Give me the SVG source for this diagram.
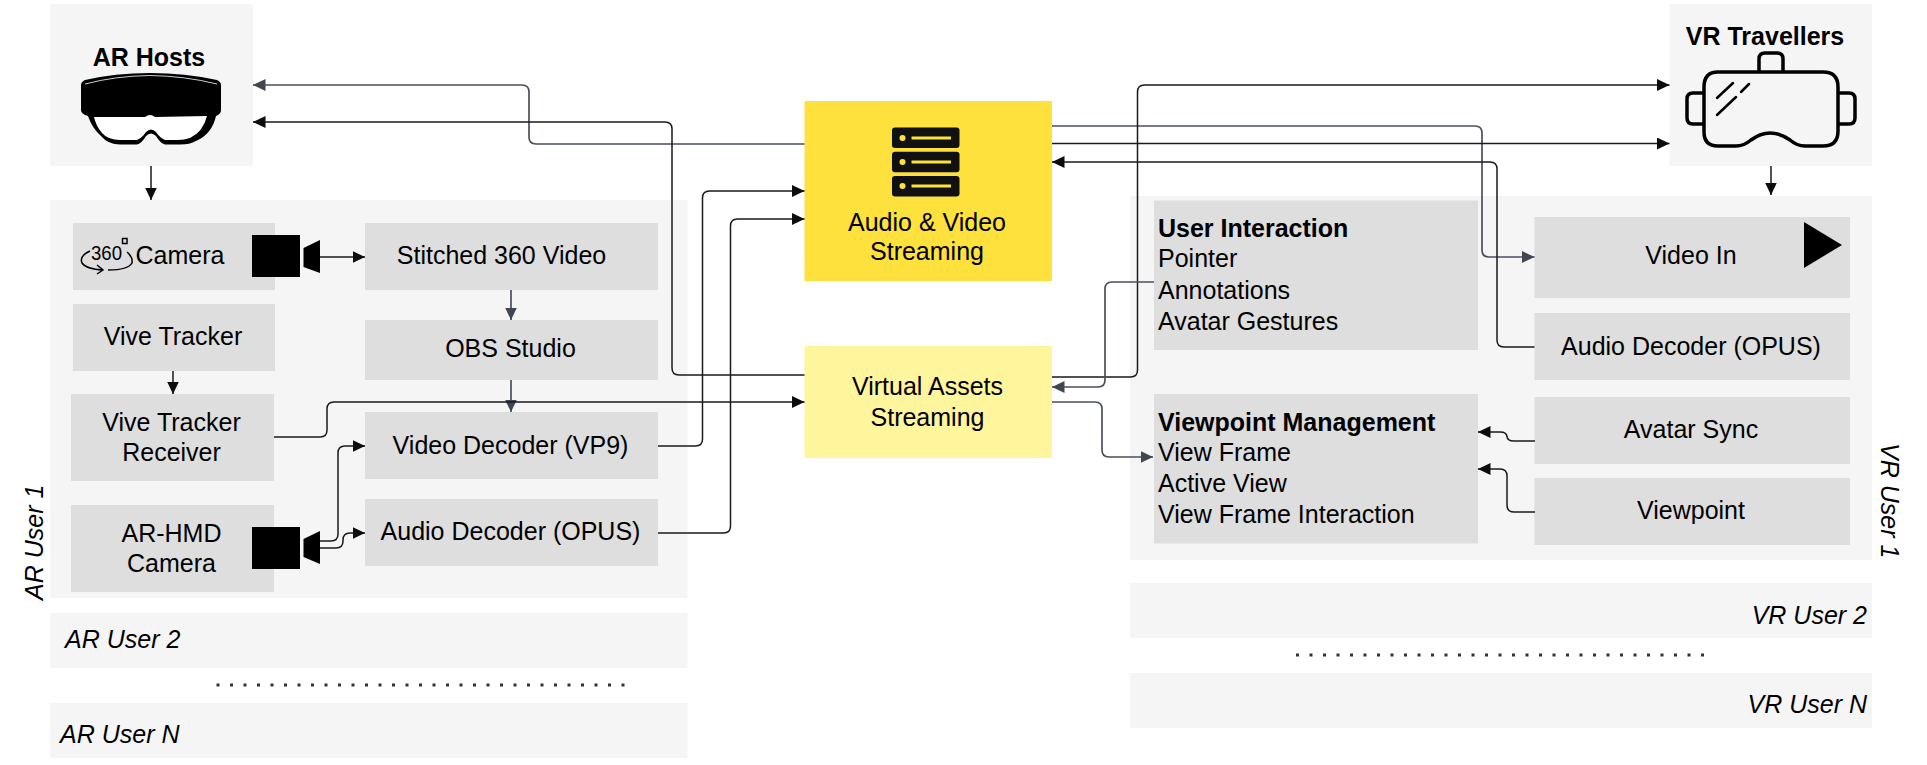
<svg xmlns="http://www.w3.org/2000/svg" width="1927" height="765" viewBox="0 0 1927 765">
<style>
text{font-family:"Liberation Sans",Arial,sans-serif;font-size:25px;fill:#000}
.m{text-anchor:middle}.b{font-weight:700}.i{font-style:italic}.e{text-anchor:end}
.p{fill:#f5f5f5}.g{fill:#dedede}
.c{fill:none;stroke:#1a1a1a;stroke-width:1.5}
.s{fill:none;stroke:#4a4f59;stroke-width:1.7}
.d{stroke:#333;stroke-width:3;stroke-dasharray:3 10.5;fill:none}
.a{marker-end:url(#ah)}.t{marker-end:url(#as)}
</style>
<defs>
<marker id="ah" markerUnits="userSpaceOnUse" markerWidth="13" markerHeight="12" refX="12.5" refY="6" orient="auto"><path d="M0 0L12.5 6L0 12z" fill="#0d0d0d"/></marker>
<marker id="as" markerUnits="userSpaceOnUse" markerWidth="13" markerHeight="12" refX="12.5" refY="6" orient="auto"><path d="M0 0L12.5 6L0 12z" fill="#414752"/></marker>
</defs>
<g id="ar-user-1-panel"><rect class="p" x="50" y="200" width="637.5" height="398"/><text class="i" transform="translate(43,600) rotate(-90)">AR User 1</text></g>
<g id="vr-user-1-panel"><rect class="p" x="1130" y="196" width="742" height="364"/><text class="i" transform="translate(1881,443) rotate(90)">VR User 1</text></g>
<g id="ar-hosts"><rect class="p" x="50" y="4" width="203" height="162"/><text class="m b" x="149" y="66">AR Hosts</text>
<path d="M81 85Q81 82 85 80Q115 73 150 73Q185 73 217 80Q221 82 221 85L221 110Q221 114 216 116Q212 134 196 141Q190 144.500 180 144.500L165 144.500Q160 143 156 136Q151 131 146 136Q142 143 137 144.500L120 144.500Q108 144.500 101 136Q92 128 88 116Q81 114 81 110z" fill="#000"/>
<path d="M94 117L145 117Q150 113 155 117L207 116Q203 132 190 138Q184 140 178 140L165 140Q159 137 156 132Q151 127 146 132Q142 138 137 140L120 140Q108 140 102 133Q96 126 94 117z" fill="#fff"/>
<path d="M85 84Q115 76 150 75.500Q185 76 217 84" fill="none" stroke="#fff" stroke-width=".8"/></g>
<g id="vr-travellers"><rect class="p" x="1669.500" y="4" width="202.500" height="162"/><text class="m b" x="1765" y="45">VR Travellers</text>
<g fill="none" stroke="#000" stroke-width="3.500" stroke-linecap="round" stroke-linejoin="round"><path d="M1718 72L1823 72Q1838 72 1838 87L1838 131Q1838 146 1823 146L1805 146Q1797 146 1790 140Q1770 126 1751 140Q1744 146 1736 146L1718 146Q1704 146 1704 132L1704 87Q1704 72 1718 72z"/><path d="M1759 71L1759 59Q1759 53 1765 53L1777 53Q1783 53 1783 59L1783 71"/><path d="M1703 93L1693 93Q1687 93 1687 99L1687 118Q1687 124 1693 124L1703 124"/><path d="M1839 93L1849 93Q1855 93 1855 99L1855 118Q1855 124 1849 124L1839 124"/><path d="M1717 98L1733 83M1741 92L1749 84M1717 115L1736 97" stroke-width="2.500"/></g></g>
<g id="camera-360"><rect class="g" x="73" y="223" width="202" height="67"/><text x="135.500" y="264">Camera</text>
<text x="91" y="260" textLength="31" lengthAdjust="spacingAndGlyphs" style="font-size:21px">360</text>
<g fill="none" stroke="#000" stroke-width="1.500"><rect x="122.500" y="238.500" width="4.500" height="5"/><path d="M90 251Q79 256 82 263Q86 269 103 270M97 265L103 270L97 274M108 270Q128 270 132 263Q133 257 127 252"/></g>
<rect x="252" y="235" width="48" height="42" fill="#000"/><path d="M303.500 248L320 240L320 273L303.500 267z" fill="#000"/></g>
<g id="stitched-360-video"><rect class="g" x="365" y="223" width="293" height="67"/><text class="m" x="501.500" y="264">Stitched 360 Video</text></g>
<g id="vive-tracker"><rect class="g" x="73" y="304" width="202" height="67"/><text class="m" x="173" y="345">Vive Tracker</text></g>
<g id="obs-studio"><rect class="g" x="365" y="320" width="293" height="60"/><text class="m" x="510.500" y="357">OBS Studio</text></g>
<g id="vive-tracker-receiver"><rect class="g" x="71" y="394" width="203" height="87"/><text class="m" x="171.500" y="431">Vive Tracker</text><text class="m" x="171.500" y="461">Receiver</text></g>
<g id="video-decoder"><rect class="g" x="365" y="412" width="293" height="67"/><text class="m" x="510.500" y="453.500">Video Decoder (VP9)</text></g>
<g id="audio-decoder"><rect class="g" x="365" y="499" width="293" height="67"/><text class="m" x="510.500" y="540">Audio Decoder (OPUS)</text></g>
<g id="ar-hmd-camera"><rect class="g" x="71" y="505" width="203" height="87"/><text class="m" x="171.500" y="542">AR-HMD</text><text class="m" x="171.500" y="572">Camera</text>
<rect x="252" y="527" width="48" height="42" fill="#000"/><path d="M303.500 539L320 531L320 564L303.500 557z" fill="#000"/></g>
<g id="ar-user-2"><rect class="p" x="50" y="613" width="637.500" height="55"/><text class="i" x="65" y="648">AR User 2</text></g>
<g id="ar-user-n"><rect class="p" x="50" y="703" width="637.500" height="55"/><text class="i" x="60" y="743">AR User N</text></g>
<g id="av-streaming"><rect x="804.500" y="101" width="247.500" height="180" fill="#ffe13d"/>
<g fill="#111"><rect x="892" y="127.500" width="67.500" height="20.500" rx="3"/><rect x="892" y="151.700" width="67.500" height="20.500" rx="3"/><rect x="892" y="176" width="67.500" height="20.500" rx="3"/></g>
<g fill="#ffe13d"><circle cx="902.500" cy="138" r="3"/><circle cx="902.500" cy="162" r="3"/><circle cx="902.500" cy="186" r="3"/><rect x="911.500" y="136.500" width="39.500" height="3"/><rect x="911.500" y="160.500" width="39.500" height="3"/><rect x="911.500" y="184.500" width="39.500" height="3"/></g>
<text class="m" x="927" y="231">Audio &amp; Video</text><text class="m" x="927" y="260">Streaming</text></g>
<g id="virtual-assets"><rect x="804.500" y="346" width="247.500" height="112" fill="#fff59d"/><text class="m" x="927.500" y="395">Virtual Assets</text><text class="m" x="927.500" y="426">Streaming</text></g>
<g id="user-interaction"><rect class="g" x="1154" y="200.500" width="324" height="149.500"/><text class="b" x="1158" y="237">User Interaction</text><text x="1158" y="267">Pointer</text><text x="1158" y="299">Annotations</text><text x="1158" y="329.500">Avatar Gestures</text></g>
<g id="viewpoint-management"><rect class="g" x="1154" y="394" width="324" height="149.500"/><text class="b" x="1158" y="431">Viewpoint Management</text><text x="1158" y="461">View Frame</text><text x="1158" y="492">Active View</text><text x="1158" y="522.500">View Frame Interaction</text></g>
<g id="video-in"><rect class="g" x="1534.500" y="217" width="315.500" height="81"/><text class="m" x="1691" y="264">Video In</text><path d="M1804 222L1842 245L1804 268z" fill="#000"/></g>
<g id="vr-audio-decoder"><rect class="g" x="1534.500" y="313" width="315.500" height="67"/><text class="m" x="1691" y="354.500">Audio Decoder (OPUS)</text></g>
<g id="avatar-sync"><rect class="g" x="1534.500" y="397" width="315.500" height="67"/><text class="m" x="1691" y="438">Avatar Sync</text></g>
<g id="viewpoint"><rect class="g" x="1534.500" y="478" width="315.500" height="67"/><text class="m" x="1691" y="519">Viewpoint</text></g>
<g id="vr-user-2"><rect class="p" x="1130" y="583" width="742" height="55"/><text class="i e" x="1867" y="624">VR User 2</text></g>
<g id="vr-user-n"><rect class="p" x="1130" y="673" width="742" height="55"/><text class="i e" x="1867" y="713">VR User N</text></g>
<g id="connectors">
<path class="d" d="M216.500 685H624.500"/><path class="d" d="M1296 655H1704.500"/>
<path class="c a" d="M151 166V200"/><path class="c a" d="M1771 166V195"/>
<path class="c a" d="M320 257H365"/><path class="s t" d="M511 290V320"/><path class="c a" d="M173 371V394"/><path class="s t" d="M511 380V412"/>
<path class="s t" d="M804.500 144H536Q529 144 529 137V92Q529 85 522 85H253"/>
<path class="c a" d="M804.500 375H679Q672 375 672 368V129Q672 122 665 122H253"/>
<path class="c a" d="M274 437H320Q327 437 327 430V409Q327 402 334 402H804.500"/>
<path class="c a" d="M320 541H331Q338 541 338 534V453Q338 446 345 446H365"/>
<path class="c a" d="M320 548H336Q343 548 343 541V540Q343 533 350 533H365"/>
<path class="c a" d="M658 446H695.500Q702.500 446 702.500 439V198Q702.500 191 709.500 191H804.500"/>
<path class="c a" d="M658 533H723.500Q730.500 533 730.500 526V226Q730.500 219 737.500 219H804.500"/>
<path class="s t" d="M1052 126H1475Q1482 126 1482 133V250Q1482 257 1489 257H1534.500"/>
<path class="c a" d="M1052 143.500H1669.500"/>
<path class="c a" d="M1534.500 347H1504Q1497 347 1497 340V169Q1497 162 1490 162H1052"/>
<path class="c a" d="M1052 377H1130.500Q1137.500 377 1137.500 370V92Q1137.500 85 1144.500 85H1669.500"/>
<path class="s t" d="M1154 282H1112Q1105 282 1105 289V380Q1105 387 1098 387H1052"/>
<path class="s t" d="M1052 402H1095Q1102 402 1102 409V450Q1102 457 1109 457H1153"/>
<path class="c a" d="M1535 441H1514Q1507 441 1507 436V437Q1507 432 1500 432H1478"/>
<path class="c a" d="M1535 512H1514Q1507 512 1507 505V476Q1507 469 1500 469H1478"/>
</g>
</svg>
